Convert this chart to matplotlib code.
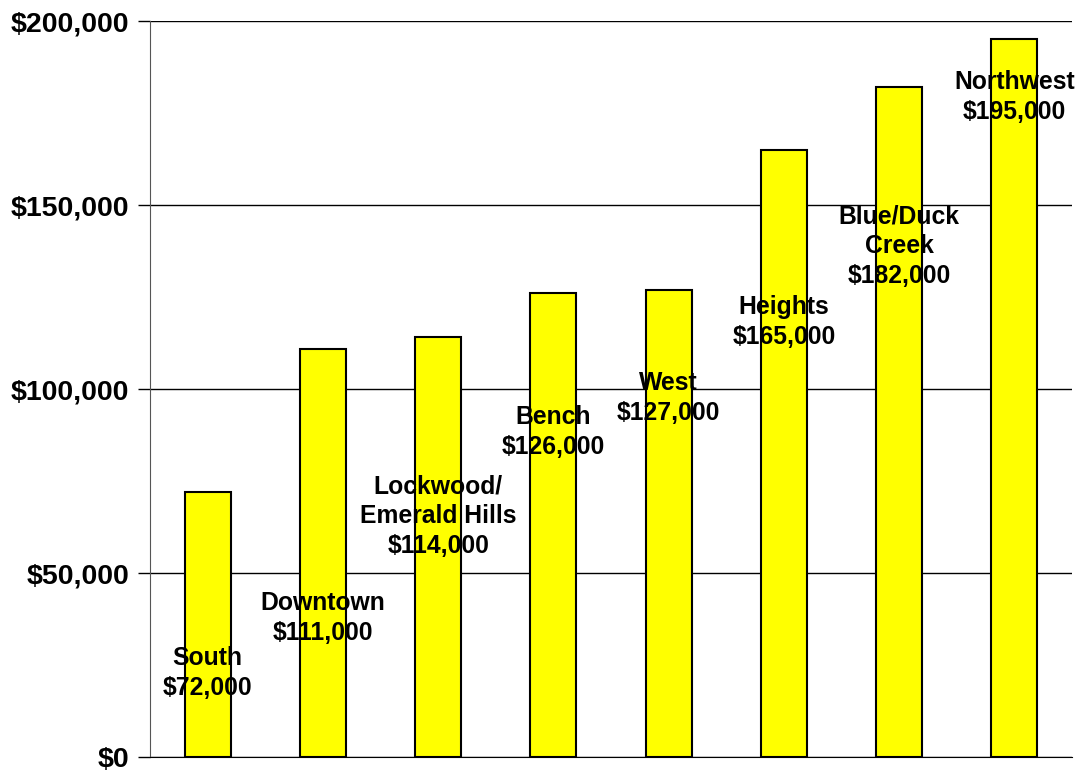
import matplotlib
matplotlib.use('Agg')
import matplotlib.pyplot as plt
from matplotlib.ticker import FuncFormatter

plt.rcParams['font.family'] = ['Liberation Sans', 'DejaVu Sans']
plt.rcParams['font.weight'] = 'bold'

# 各区域房价中位数
areas = ['South', 'Downtown', 'Lockwood/\nEmerald Hills', 'Bench', 'West',
         'Heights', 'Blue/Duck\nCreek', 'Northwest']
prices = [72000, 111000, 114000, 126000, 127000, 165000, 182000, 195000]
# 标签中心高度（数据坐标）
label_y = [22800, 37800, 65500, 88300, 97600, 118200, 138900, 179300]

fig = plt.figure(figsize=(10.81, 7.72), dpi=100)
ax = fig.add_axes([150 / 1081, 1 - 757 / 772, 922 / 1081, 736 / 772])

x = list(range(len(areas)))
ax.bar(x, prices, width=0.4, color='#FFFF00', edgecolor='black', linewidth=1.5, zorder=3)

for i, (name, p, ly) in enumerate(zip(areas, prices, label_y)):
    ax.text(i, ly, '{}\n${:,}'.format(name, p), ha='center', va='center',
            fontsize=17.8, fontweight='bold', linespacing=1.3, zorder=4)

ax.set_xlim(-0.5, len(areas) - 0.5)
ax.set_ylim(0, 200000)
ax.set_yticks([0, 50000, 100000, 150000, 200000])
ax.yaxis.set_major_formatter(FuncFormatter(lambda v, p: '${:,.0f}'.format(v)))
ax.tick_params(axis='y', labelsize=20.5, length=9, width=1, direction='out', pad=6)
ax.set_xticks([])
ax.grid(axis='y', color='black', linewidth=1, zorder=0)

for s in ['top', 'right']:
    ax.spines[s].set_visible(False)
ax.spines['left'].set_color('#555555')
ax.spines['bottom'].set_color('black')

plt.savefig('out.png', dpi=100)
plt.close()
